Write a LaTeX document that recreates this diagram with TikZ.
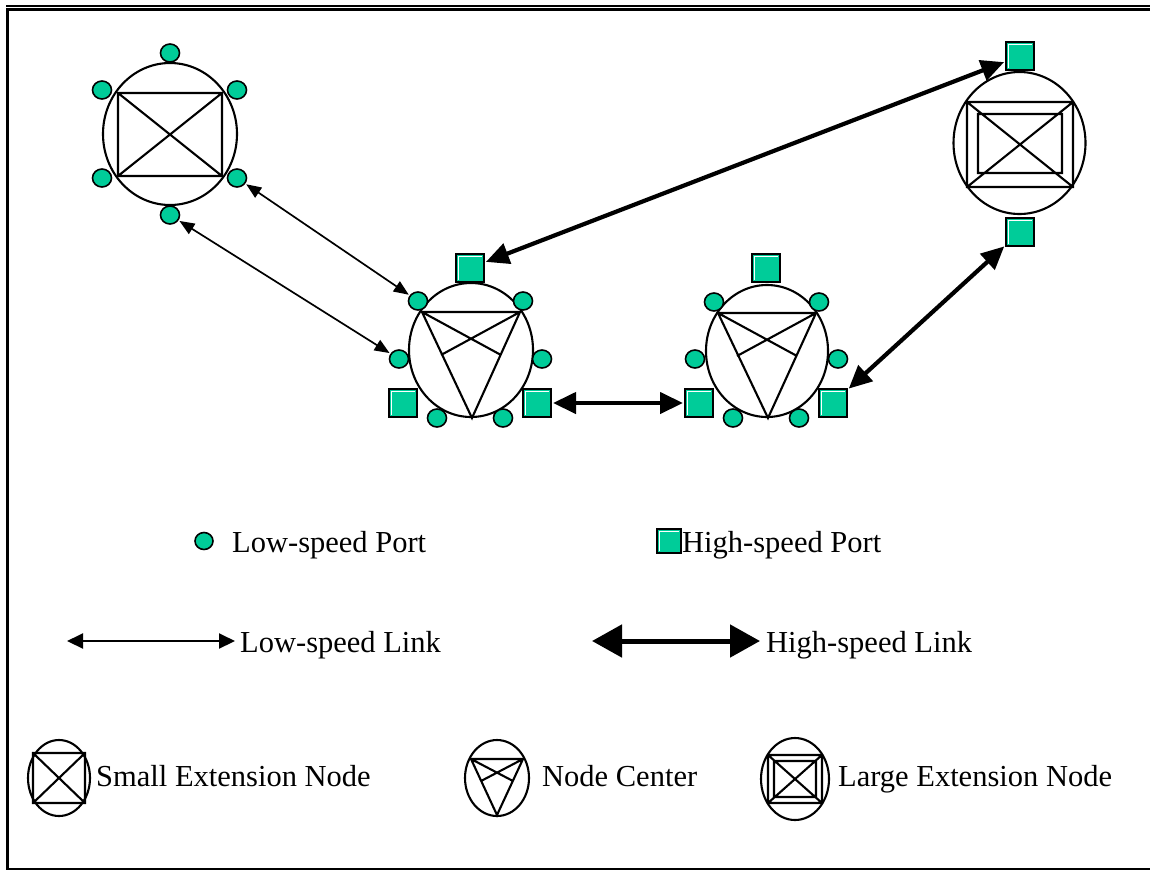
\documentclass[tikz,border=0pt]{standalone}
\usepackage{fontspec}
\setmainfont{Liberation Serif}
\usetikzlibrary{arrows.meta,shapes.geometric}
\definecolor{port}{RGB}{0,204,153}
\begin{document}
\begin{tikzpicture}[x=1pt,y=-1pt,
  lp/.style={ellipse,draw=black,line width=1.6pt,fill=port,minimum width=19pt,minimum height=18pt,inner sep=0pt},
  hp/.style={rectangle,draw=black,line width=2pt,fill=port,minimum size=28pt,inner sep=0pt,
    path picture={\draw[white,line width=1pt]
      ([xshift=2pt,yshift=2pt]path picture bounding box.south west) --
      ([xshift=2pt,yshift=-2pt]path picture bounding box.north west) --
      ([xshift=-2pt,yshift=-2pt]path picture bounding box.north east);}},
  body/.style={ellipse,draw=black,line width=2.1pt,inner sep=0pt},
  ln/.style={line width=2.1pt,line join=miter},
  lowlink/.style={line width=1.7pt,{Triangle[length=15pt,width=12pt]}-{Triangle[length=15pt,width=12pt]},shorten <=1pt,shorten >=1pt},
  highlink/.style={line width=4.2pt,{Triangle[length=23pt,width=21pt]}-{Triangle[length=23pt,width=21pt]},shorten <=1pt,shorten >=1pt},
  lbl/.style={anchor=base west,inner sep=0pt,font=\fontsize{30.5}{36}\selectfont}
]
\useasboundingbox (0,0) rectangle (1150,871);
% frame
\draw[line width=2pt] (6,6) -- (1150,6);
\draw[line width=2.5pt] (6,9.5) -- (1150,9.5);
\draw[line width=3pt] (7.5,9.5) -- (7.5,869);
\draw[line width=2pt] (6,869) -- (1150,869);

% small extension node
\node[body,minimum width=134pt,minimum height=142pt] (sen) at (170,134) {};
\draw[ln] (118,93) rectangle (222,176) (118,93) -- (222,176) (222,93) -- (118,176);
\foreach \n/\x/\y in {1/170/53,2/102/90,3/237/90,4/102/178,5/237/178,6/170/215}
  \node[lp] (sen\n) at (\x,\y) {};

% node center 1
\node[body,minimum width=124pt,minimum height=134pt] (nca) at (471,350) {};
\draw[ln] (422,312) -- (520,312) -- (472,418) -- cycle (422,312) -- (501,355) (520,312) -- (441,355);
\foreach \n/\x/\y in {1/418/301,2/523/301,3/399/359,4/542/359,5/437/418,6/503/418}
  \node[lp] (ncal\n) at (\x,\y) {};
\node[hp] (ncat) at (470,268) {};
\node[hp] (ncal) at (403,403) {};
\node[hp] (ncar) at (537,403) {};

% node center 2
\node[body,minimum width=122pt,minimum height=132pt] (ncb) at (767,351) {};
\draw[ln] (718,313) -- (816,313) -- (768,418) -- cycle (718,313) -- (797,356) (816,313) -- (737,356);
\foreach \n/\x/\y in {1/714/302,2/819/302,3/695/359,4/838/359,5/733/418,6/799/418}
  \node[lp] (ncbl\n) at (\x,\y) {};
\node[hp] (ncbt) at (766,268) {};
\node[hp] (ncbl) at (699,403) {};
\node[hp] (ncbr) at (833,403) {};

% large extension node
\node[body,minimum width=132pt,minimum height=142pt] (len) at (1019.5,143) {};
\draw[ln] (967,102) rectangle (1073,187) (978,114) rectangle (1062,173)
  (967,102) -- (1073,187) (1073,102) -- (967,187);
\node[hp] (lent) at (1020,56) {};
\node[hp] (lenb) at (1020,232) {};

% links
\draw[lowlink] (sen5) -- (ncal1);
\draw[lowlink] (sen6) -- (ncal3);
\draw[highlink] (ncat) -- (lent);
\draw[highlink] (ncar) -- (ncbl);
\draw[highlink] (ncbr) -- (lenb);

% legend ports
\node[lp,minimum width=18pt,minimum height=17pt] (lglp) at (204,541) {};
\node[lbl] (tlp) at (232,552) {Low-speed Port};
\node[hp,minimum size=24pt] (lghp) at (669,541) {};
\node[lbl] (thp) at (682,552) {High-speed Port};

% legend links
\coordinate (lla) at (67,641);
\coordinate (llb) at (235,641);
\draw[line width=2pt,{Triangle[length=16pt,width=15pt]}-{Triangle[length=16pt,width=15pt]}] (lla) -- (llb);
\node[lbl] (tll) at (240,652) {Low-speed Link};
\coordinate (hla) at (592,641);
\coordinate (hlb) at (760,641);
\draw[line width=5pt,{Triangle[length=30pt,width=32pt]}-{Triangle[length=30pt,width=32pt]}] (hla) -- (hlb);
\node[lbl] (thl) at (766,652) {High-speed Link};

% legend icons
\node[body,minimum width=62pt,minimum height=76pt] (isen) at (59,778) {};
\draw[ln] (33,753) rectangle (85,803) (33,753) -- (85,803) (85,753) -- (33,803);
\node[lbl] (tsen) at (96,786) {Small Extension Node};

\node[body,minimum width=64pt,minimum height=76pt] (inc) at (497,778) {};
\draw[ln] (471,759) -- (523,759) -- (497,815) -- cycle (471,759) -- (513,781) (523,759) -- (481,781);
\node[lbl] (tnc) at (542,786) {Node Center};

\node[body,minimum width=68pt,minimum height=82pt] (ilen) at (795,779) {};
\draw[ln] (768,755) rectangle (822,803) (774,761) rectangle (816,797)
  (768,755) -- (822,803) (822,755) -- (768,803);
\node[lbl] (tlen) at (838,786) {Large Extension Node};
\end{tikzpicture}
\end{document}
